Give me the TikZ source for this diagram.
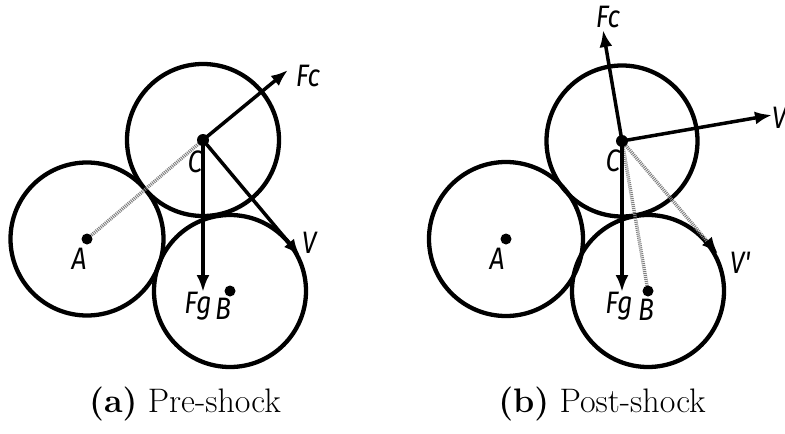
\documentclass[tikz,border=0pt]{standalone}
\usepackage{fontspec}
\usetikzlibrary{arrows.meta}
\newfontfamily\lblfont[FakeStretch=0.85]{Fira Sans}
\tikzset{
  ball/.style={line width=4.3pt},
  force/.style={line width=3.5pt,-{Latex[length=17pt,width=13pt]}},
  link/.style={gray,line width=3.5pt,dash pattern=on 1pt off 1pt},
  lbl/.style={font=\lblfont\itshape\fontsize{31}{31}\selectfont},
  captext/.style={font=\fontsize{34}{40}\selectfont}
}
\begin{document}
\begin{tikzpicture}[x=1pt,y=-1pt]
\useasboundingbox (0,0) rectangle (785,434);
% (a) pre-shock
\coordinate (A1) at (87,239);
\coordinate (B1) at (230,291);
\coordinate (C1) at (203,140);
\coordinate (Fc1) at (288,70);
\coordinate (V1) at (300,256);
\coordinate (Fg1) at (203,292);
\draw[ball] (A1) circle (76.5);
\draw[ball] (B1) circle (76);
\draw[ball] (C1) circle (76);
\draw[link] (A1) -- (C1);
\draw[force] (C1) -- (Fc1);
\draw[force] (C1) -- (V1);
\draw[force] (C1) -- (Fg1);
\fill (A1) circle (5.5);
\fill (B1) circle (5.5);
\fill (C1) circle (6);
\node[lbl] (fc1) at (308,76) {Fc};
\node[lbl] (v1) at (309,243) {V};
\node[lbl] (fg1) at (198,306) {Fg};
\node[lbl] (c1) at (195,162) {C};
\node[lbl] (a1) at (79,259) {A};
\node[lbl] (b1) at (223,309) {B};
% (b) post-shock
\coordinate (A2) at (506,239);
\coordinate (B2) at (648,291);
\coordinate (C2) at (622,141);
\coordinate (Fc2) at (603,30);
\coordinate (V2) at (772,115);
\coordinate (Vp2) at (718,254);
\coordinate (Fg2) at (622,292);
\draw[ball] (A2) circle (77);
\draw[ball] (B2) circle (76);
\draw[ball] (C2) circle (75.5);
\draw[link] (C2) -- (B2);
\draw[link,-{Latex[length=17pt,width=13pt,color=black]}] (C2) -- (Vp2);
\draw[force] (C2) -- (Fc2);
\draw[force] (C2) -- (V2);
\draw[force] (C2) -- (Fg2);
\fill (A2) circle (5.5);
\fill (B2) circle (5.5);
\fill (C2) circle (6);
\node[lbl] (fc2) at (608,17) {Fc};
\node[lbl] (v2) at (779,118) {V};
\node[lbl] (vp2) at (740,263) {V'};
\node[lbl] (fg2) at (619,306) {Fg};
\node[lbl] (c2) at (613,161) {C};
\node[lbl] (a2) at (497,259) {A};
\node[lbl] (b2) at (646,310) {B};
% captions
\node[captext] (capa) at (185,404) {\textbf{(a)} Pre-shock};
\node[captext] (capb) at (602,404) {\textbf{(b)} Post-shock};
\end{tikzpicture}
\end{document}
